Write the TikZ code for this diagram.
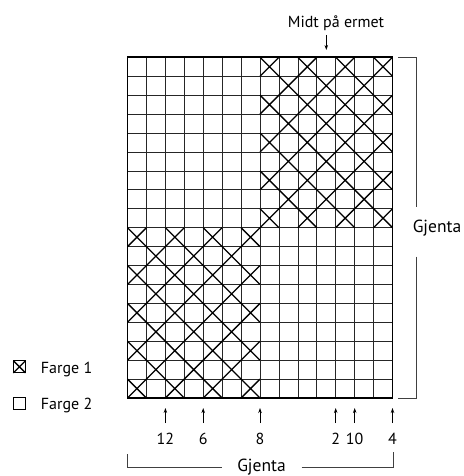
\documentclass[tikz,border=0pt]{standalone}
\usepackage{fontspec}
\setmainfont{PT Sans}
\usetikzlibrary{arrows.meta}
\begin{document}
\begin{tikzpicture}[x=1pt,y=-1pt,
  gridline/.style={line width=0.7pt, draw=black!85},
  frame/.style={line width=1.8pt, draw=black},
  cross/.style={line width=1.3pt, draw=black},
  bracket/.style={line width=0.9pt, draw=black!75},
  pointer/.style={line width=0.8pt, draw=black, -{Stealth[length=5pt,width=3.5pt]}},
  lbl/.style={font=\fontsize{16}{19}\selectfont, inner sep=0pt, anchor=base},
  biglbl/.style={lbl, font=\fontsize{17.5}{21}\selectfont},
  keybox/.style={line width=0.9pt, draw=black}]
\useasboundingbox (0,0) rectangle (463,476);

% chart: 14 columns x 18 rows
\begin{scope}[shift={(127.5,57.3)}, x=18.93pt, y=-18.93pt]
  \foreach \i in {1,...,13} \draw[gridline] (\i,0) -- (\i,18);
  \foreach \j in {1,...,17} \draw[gridline] (0,\j) -- (14,\j);
  % upper right block of crosses
  \foreach \r in {0,...,8} {
    \foreach \c in {7,...,13} {
      \pgfmathtruncatemacro\s{mod(\r+\c-7,2)}
      \ifnum\s=0 \draw[cross] (\c,\r) -- (\c+1,\r+1) (\c+1,\r) -- (\c,\r+1); \fi
    }
  }
  % lower left block of crosses
  \foreach \r in {9,...,17} {
    \foreach \c in {0,...,6} {
      \pgfmathtruncatemacro\s{mod(\r-9+\c,2)}
      \ifnum\s=0 \draw[cross] (\c,\r) -- (\c+1,\r+1) (\c+1,\r) -- (\c,\r+1); \fi
    }
  }
  \draw[frame] (0,0) rectangle (14,18);
\end{scope}

% top label
\node[lbl] (midt) at (336,28) {Midt på ermet};
\coordinate (m0) at (326.3,35);
\coordinate (m1) at (326.3,50);
\draw[pointer] (m0) -- (m1);

% stitch numbers under the chart
\foreach \name/\xx/\txt in {n12/165.4/12, n6/203.2/6, n8/260/8, n2/335.7/2, n10/354.7/10, n4/392.5/4} {
  \node[lbl] (\name) at (\xx,444) {\txt};
  \coordinate (\name b) at (\xx,423);
  \coordinate (\name t) at (\xx,408);
  \draw[pointer] (\name b) -- (\name t);
}

% repeat bracket on the right
\node[biglbl] (gr) at (437,232) {Gjenta};
\coordinate (r1) at (398,57.3);
\coordinate (r2) at (416.7,57.3);
\coordinate (r3) at (416.7,206.7);
\coordinate (r4) at (416.7,256.7);
\coordinate (r5) at (416.7,398);
\coordinate (r6) at (398,398);
\draw[bracket] (r1) -- (r2) -- (r3);
\draw[bracket] (r4) -- (r5) -- (r6);

% repeat bracket at the bottom
\node[biglbl] (gb) at (261.5,471.5) {Gjenta};
\coordinate (b1) at (127.5,454);
\coordinate (b2) at (127.5,467.5);
\coordinate (b3) at (222,467.5);
\coordinate (b4) at (301.7,467.5);
\coordinate (b5) at (393.3,467.5);
\coordinate (b6) at (393.3,452);
\draw[bracket] (b1) -- (b2) -- (b3);
\draw[bracket] (b4) -- (b5) -- (b6);

% key
\draw[keybox] (13.3,360.7) rectangle (25.5,372.9);
\draw[cross] (13.3,360.7) -- (25.5,372.9) (25.5,360.7) -- (13.3,372.9);
\node[lbl, anchor=base west] (f1) at (40.7,373) {Farge 1};
\draw[keybox] (13.3,397.3) rectangle (25.5,409.5);
\node[lbl, anchor=base west] (f2) at (40.7,409.5) {Farge 2};
\end{tikzpicture}
\end{document}
